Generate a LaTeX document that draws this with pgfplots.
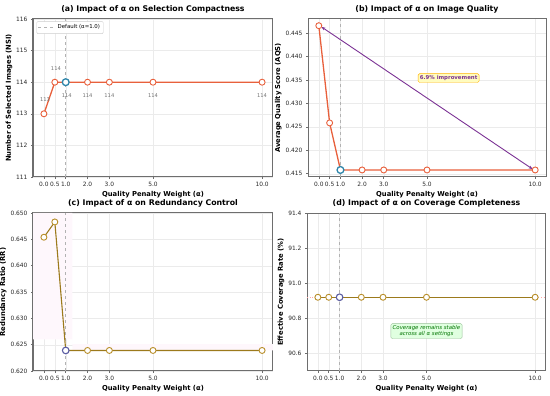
\documentclass[border=0pt]{standalone}
\usepackage{fontspec}
\setmainfont{DejaVu Sans}
\usepackage{pgfplots}
\pgfplotsset{compat=1.18}
\usetikzlibrary{arrows.meta}
\definecolor{cA}{HTML}{E8603C}
\definecolor{cDefA}{HTML}{2E86AB}
\definecolor{cC}{HTML}{9C7A1C}
\definecolor{cCm}{HTML}{B88E2A}
\definecolor{cDefC}{HTML}{5B5EA6}
\definecolor{spine}{HTML}{6E6E6E}
\definecolor{purp}{HTML}{7B3294}
\pgfplotsset{
 myax/.style={
  scale only axis, width=240pt, height=158pt, anchor=south west,
  xmin=-0.5, xmax=10.5,
  xtick={0,0.5,1,2,3,5,10},
  xticklabels={0.0,0.5,1.0,2.0,3.0,5.0,10.0},
  grid=major, grid style={black!8, line width=0.3pt},
  axis line style={spine, line width=1pt},
  tick style={spine, line width=0.5pt},
  major tick length=2pt,
  tick align=outside, tick pos=left,
  ticklabel style={font=\fontsize{5.9}{6.5}\selectfont, text=black!85},
  /pgf/number format/assume math mode=true,
  title style={font=\bfseries\fontsize{7.8}{9}\selectfont, yshift=-3.5pt},
  label style={font=\bfseries\fontsize{6.8}{8}\selectfont},
  xlabel={Quality Penalty Weight (α)},
  xlabel style={yshift=3pt},
  ylabel style={yshift=-3pt},
 },
 vl/.style={gray!60, dashed, line width=0.6pt},
}
\begin{document}
\begin{tikzpicture}
\useasboundingbox (0pt,0pt) rectangle (550pt,396pt);
% (a)
\begin{axis}[myax, at={(33pt,219pt)}, ymin=111, ymax=116, ytick={111,112,113,114,115,116},
  title={(a) Impact of α on Selection Compactness},
  ylabel={Number of Selected Images (NSI)},
  legend style={at={(0.015,0.985)}, anchor=north west, font=\fontsize{5.4}{6}\selectfont, draw=black!20, rounded corners=1pt, inner sep=1.2pt},
  legend cell align=left]
\addplot[vl] coordinates {(1,111)(1,116)};
\addlegendentry{Default (α=1.0)}
\addplot[cA, line width=1.3pt, mark=*, mark size=3pt, mark options={fill=white, draw=cA, line width=0.9pt}, forget plot] coordinates {(0,113)(0.5,114)(1,114)(2,114)(3,114)(5,114)(10,114)};
\addplot[only marks, mark=*, mark size=3.4pt, mark options={fill=white, draw=cDefA, line width=1.3pt}, forget plot] coordinates {(1,114)};
\begin{scope}[every node/.style={font=\fontsize{5.2}{6}\selectfont, text=black!55}]
\node at (axis cs:0.05,113.44) {113};
\node at (axis cs:0.55,114.42) {114};
\node at (axis cs:1.05,113.58) {114};
\node at (axis cs:2,113.58) {114};
\node at (axis cs:3,113.58) {114};
\node at (axis cs:5,113.58) {114};
\node at (axis cs:10,113.58) {114};
\end{scope}
\end{axis}
% (b)
\begin{axis}[myax, at={(308pt,219pt)}, width=238pt, ymin=0.4143, ymax=0.448,
  ytick={0.415,0.42,0.425,0.43,0.435,0.44,0.445},
  yticklabel style={/pgf/number format/.cd, fixed, fixed zerofill, precision=3},
  title={(b) Impact of α on Image Quality},
  ylabel={Average Quality Score (AQS)}]
\addplot[vl] coordinates {(1,0.4143)(1,0.448)};
\addplot[cA, line width=1.3pt, mark=*, mark size=3pt, mark options={fill=white, draw=cA, line width=0.9pt}] coordinates {(0,0.44657)(0.5,0.42584)(1,0.4158)(2,0.4158)(3,0.4158)(5,0.4158)(10,0.4158)};
\addplot[only marks, mark=*, mark size=3.4pt, mark options={fill=white, draw=cDefA, line width=1.3pt}] coordinates {(1,0.4158)};
\draw[purp, line width=0.9pt, {Stealth[length=4pt,width=3pt]}-{Stealth[length=4pt,width=3pt]}] (axis cs:9.88,0.41598) -- (axis cs:0.12,0.44632);
\node[font=\bfseries\fontsize{5.4}{6}\selectfont, text=purp, fill=yellow!25, draw=orange!60!yellow, rounded corners=1.5pt, inner sep=1.8pt, line width=0.4pt] at (axis cs:6.0,0.4354) {6.9\% improvement};
\end{axis}
% (c)
\begin{axis}[myax, at={(33pt,25pt)}, ymin=0.62, ymax=0.65,
  ytick={0.62,0.625,0.63,0.635,0.64,0.645,0.65},
  yticklabel style={/pgf/number format/.cd, fixed, fixed zerofill, precision=3},
  title={(c) Impact of α on Redundancy Control},
  ylabel={Redundancy Ratio (RR)}]
\addplot[fill=magenta!3, draw=none] coordinates {(-0.5,0.6500)(1.3,0.6500)(1.3,0.6251)(10.5,0.6251)(10.5,0.6239)(1.3,0.6239)(1.3,0.626)(-0.5,0.626)} -- cycle;
\addplot[vl] coordinates {(1,0.62)(1,0.65)};
\addplot[cC, line width=1.1pt, mark=*, mark size=3pt, mark options={fill=white, draw=cCm, line width=0.9pt}] coordinates {(0,0.6454)(0.5,0.6483)(1,0.6239)(2,0.6239)(3,0.6239)(5,0.6239)(10,0.6239)};
\addplot[only marks, mark=*, mark size=3.3pt, mark options={fill=white, draw=cDefC, line width=1.1pt}] coordinates {(1,0.6239)};
\end{axis}
% (d)
\begin{axis}[myax, at={(307pt,25pt)}, width=239pt, ymin=90.5, ymax=91.4,
  ytick={90.6,90.8,91.0,91.2,91.4},
  yticklabel style={/pgf/number format/.cd, fixed, fixed zerofill, precision=1},
  title={(d) Impact of α on Coverage Completeness},
  ylabel={Effective Coverage Rate (\%)}]
\addplot[red!35, dotted, line width=0.6pt] coordinates {(-0.5,90.92)(10.5,90.92)};
\addplot[vl] coordinates {(1,90.5)(1,91.4)};
\addplot[cC, line width=1.1pt, mark=*, mark size=3pt, mark options={fill=white, draw=cCm, line width=0.9pt}] coordinates {(0,90.92)(0.5,90.92)(1,90.92)(2,90.92)(3,90.92)(5,90.92)(10,90.92)};
\addplot[only marks, mark=*, mark size=3.3pt, mark options={fill=white, draw=cDefC, line width=1.1pt}] coordinates {(1,90.92)};
\node[font=\itshape\fontsize{5.4}{6.3}\selectfont, text=green!45!black, fill=green!12, draw=green!40!black!40, rounded corners=1.5pt, inner sep=1.8pt, align=center, line width=0.4pt] at (axis cs:5.0,90.727) {Coverage remains stable\\across all α settings};
\end{axis}
\end{tikzpicture}
\end{document}
